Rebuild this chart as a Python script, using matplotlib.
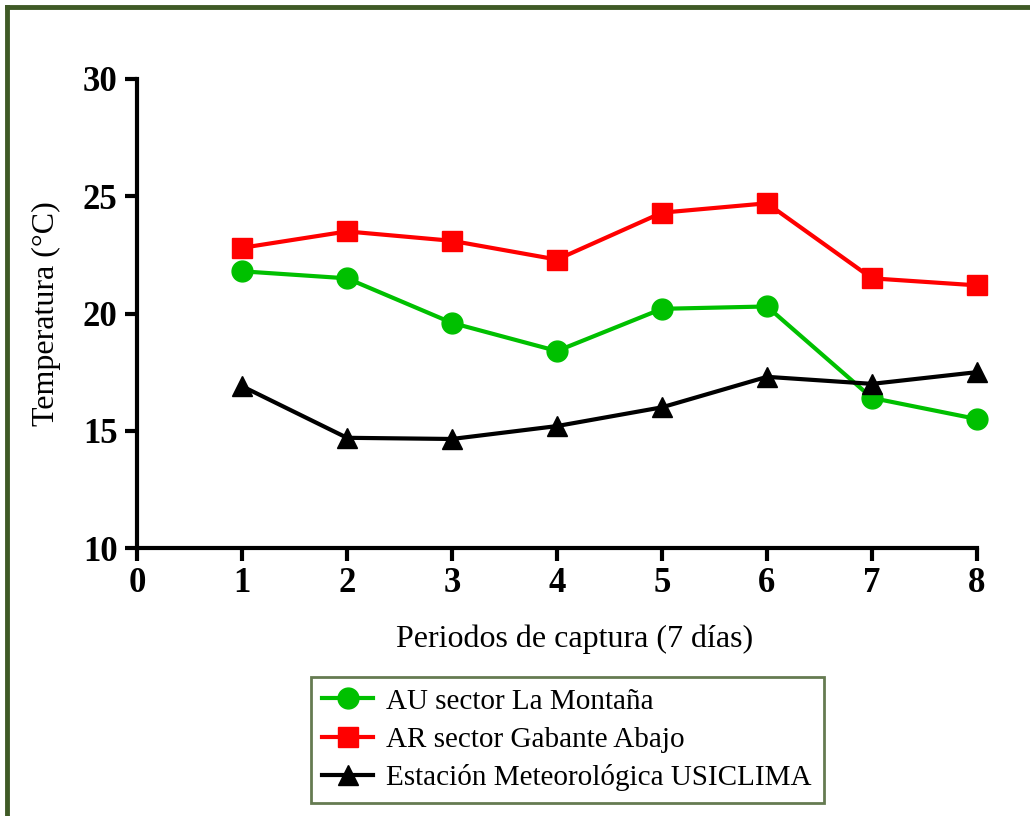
import matplotlib.pyplot as plt
from matplotlib.lines import Line2D

plt.rcParams['font.family'] = ['Liberation Serif', 'DejaVu Serif']

periodos = [1, 2, 3, 4, 5, 6, 7, 8]
au_montana = [21.8, 21.5, 19.6, 18.4, 20.2, 20.3, 16.4, 15.5]
ar_gabante = [22.8, 23.5, 23.1, 22.3, 24.3, 24.7, 21.5, 21.2]
usiclima = [16.9, 14.7, 14.65, 15.2, 16.0, 17.3, 17.0, 17.5]

etiquetas = ["AU sector La Montaña",
             "AR sector Gabante Abajo",
             "Estación Meteorológica USICLIMA"]

fig = plt.figure(figsize=(10.3, 8.16), dpi=100)
ax = fig.add_axes([0.133, 0.3284, 0.8155, 0.5748])

ax.plot(periodos, au_montana, color="#00c000", marker="o", markersize=15,
        linewidth=3, label=etiquetas[0], clip_on=False)
ax.plot(periodos, ar_gabante, color="#ff0000", marker="s", markersize=15,
        linewidth=3, label=etiquetas[1], clip_on=False)
ax.plot(periodos, usiclima, color="black", marker="^", markersize=15,
        linewidth=3, label=etiquetas[2], clip_on=False)

ax.set_xlim(0, 8)
ax.set_ylim(10, 30)
ax.set_xticks(range(0, 9))
ax.set_yticks([10, 15, 20, 25, 30])
for s in ["top", "right"]:
    ax.spines[s].set_visible(False)
for s in ["left", "bottom"]:
    ax.spines[s].set_linewidth(3)
ax.tick_params(width=3, length=9, labelsize=25, pad=5)
for t in ax.get_xticklabels() + ax.get_yticklabels():
    t.set_fontweight("bold")

ax.set_xlabel("Periodos de captura (7 días)", fontsize=23)
ax.xaxis.set_label_coords(0.521, -0.164)
ax.set_ylabel("Temperatura (°C)", fontsize=23, labelpad=16)

leg = ax.legend(loc="upper center", bbox_to_anchor=(0.512, -0.243),
                fontsize=21, frameon=True, fancybox=False,
                handlelength=1.75, borderpad=0.4, labelspacing=0.4,
                handletextpad=0.45)
leg.get_frame().set_edgecolor("#3f5a26")
leg.get_frame().set_linewidth(2)

# marco superior e izquierdo
fig.add_artist(Line2D([0.0068, 1.0], [0.9914, 0.9914], color="#3f5a26",
                      linewidth=3.5, transform=fig.transFigure))
fig.add_artist(Line2D([0.0068, 0.0068], [0.0, 0.9914], color="#3f5a26",
                      linewidth=3.5, transform=fig.transFigure))

fig.savefig("out.png", dpi=100)
